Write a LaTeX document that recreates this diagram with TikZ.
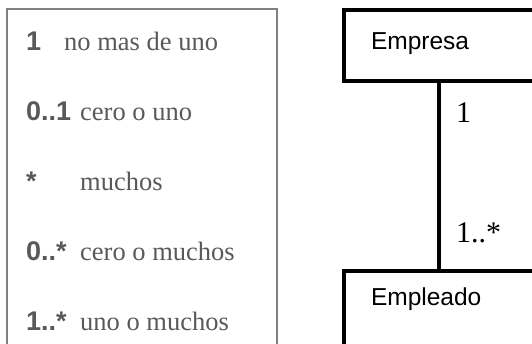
\documentclass[tikz,border=0pt]{standalone}
\usepackage{fontspec}
\setmainfont{Liberation Serif}
\setsansfont{Liberation Sans}
\definecolor{legendgray}{HTML}{595959}
\definecolor{framegray}{HTML}{808080}

\begin{document}
\begin{tikzpicture}[x=1bp, y=-1bp]
    \tikzstyle{classbox}=[draw, line width=3.5bp, inner ysep=0pt, inner xsep=27bp, outer sep=0pt, text width=136bp, align=left, font=\sffamily\fontsize{24.5bp}{26bp}\selectfont]
    \tikzstyle{multtext}=[inner sep=0pt, anchor=base west, text=legendgray, font=\sffamily\bfseries\fontsize{27bp}{29bp}\selectfont]
    \tikzstyle{desctext}=[inner sep=0pt, anchor=base west, text=legendgray, font=\fontsize{26.5bp}{28bp}\selectfont]
    \tikzstyle{endlabel}=[inner sep=0pt, anchor=base west, font=\fontsize{30bp}{32bp}\selectfont]

    \useasboundingbox (0,0) rectangle (532,343);
    \clip (0,0) rectangle (532,343);

    % legend of multiplicities
    \draw[framegray, line width=2bp] (7,360) -- (7,8.5) -- (277,8.5) -- (277,360);
    \foreach \m/\d/\x [count=\i] in {1/no mas de uno/64, 0..1/cero o uno/80, {*}/muchos/80, 0..*/cero o muchos/80, 1..*/uno o muchos/80}{
        \node[multtext] (mult\i) at (26, {50+70*(\i-1)}) {\m};
        \node[desctext] (desc\i) at (\x, {50+70*(\i-1)}) {\d};
    }

    % classes
    \node[classbox, text height=39bp, text depth=32bp, anchor=north west] (empresa) at (344,10) {Empresa};
    \node[classbox, text height=34bp, text depth=80bp, anchor=north west] (empleado) at (344,271) {Empleado};

    \draw[line width=3.5bp] (empresa) -- (empleado);
    \node[endlabel] (multTop) at (456,122) {1};
    \node[endlabel] (multBottom) at (456,242) {1..*};
\end{tikzpicture}
\end{document}
